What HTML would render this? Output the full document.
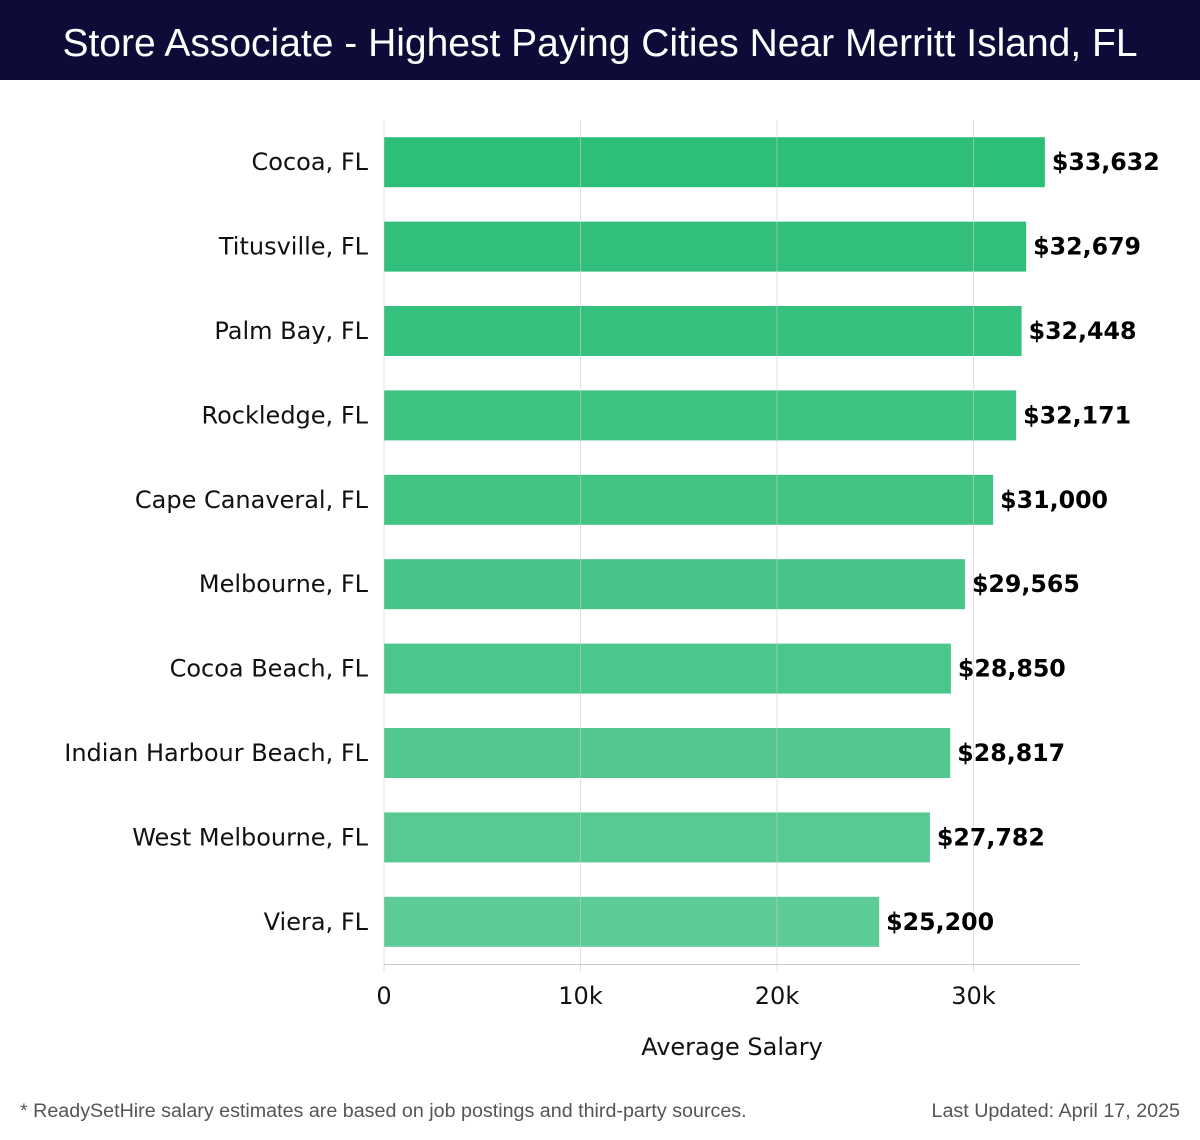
<!DOCTYPE html>
<html><head><meta charset="utf-8"><style>
body{margin:0;width:1200px;height:1140px;background:#fff;overflow:hidden;font-family:"DejaVu Sans","Liberation Sans",sans-serif}
#title{position:absolute;left:0;top:0;width:1200px;height:80px;background:#0d0c38;color:#fff;font-family:"Liberation Sans",sans-serif;font-size:39px;line-height:88px;text-align:center}
svg{position:absolute;left:0;top:0}
.foot{position:absolute;top:1100px;font-family:"Liberation Sans",sans-serif;font-size:19.7px;color:#555}
</style></head><body>
<div id="title">Store Associate - Highest Paying Cities Near Merritt Island, FL</div>
<svg id="chart" width="1200" height="1140"></svg>
<div class="foot" style="left:20px">* ReadySetHire salary estimates are based on job postings and third-party sources.</div>
<div class="foot" style="right:20px">Last Updated: April 17, 2025</div>
<script>
const cities=["Cocoa, FL","Titusville, FL","Palm Bay, FL","Rockledge, FL","Cape Canaveral, FL","Melbourne, FL","Cocoa Beach, FL","Indian Harbour Beach, FL","West Melbourne, FL","Viera, FL"];
const salaries=[33632,32679,32448,32171,31000,29565,28850,28817,27782,25200];
const ticks=[0,10000,20000,30000];
const tickLabels=["0","10k","20k","30k"];
const NS="http://www.w3.org/2000/svg";
const svg=document.getElementById('chart');
const x0=384,pxPer=19.65/1000,top0=120,step=84.4;
const xs=v=>x0+v*pxPer;
const yc=i=>top0+step*(i+0.5);
function mk(t,a){const e=document.createElementNS(NS,t);for(const k in a)e.setAttribute(k,a[k]);svg.appendChild(e);return e;}
const c1=[45,190,120],c2=[92,203,150];
cities.forEach((c,i)=>{
 const f=i/(cities.length-1);
 const col=`rgb(${c1.map((v,j)=>Math.round(v+(c2[j]-v)*f)).join(',')})`;
 const b=mk('rect',{x:x0,y:yc(i)-25,width:xs(salaries[i])-x0,height:50,fill:col});
 
 
});
ticks.forEach((t,i)=>{
 const g=mk('line',{x1:xs(t),x2:xs(t),y1:top0,y2:972,stroke:'#ccc','stroke-width':1,'stroke-opacity':0.6});
 
 
 const tl=mk('text',{x:xs(t),y:1004,'text-anchor':'middle','font-size':24,fill:'#111'});tl.textContent=tickLabels[i];
 
 
});
cities.forEach((c,i)=>{
 const l=mk('text',{x:368,y:yc(i)+8,'text-anchor':'end','font-size':24,fill:'#111'});l.textContent=c;
 
 
 const v=mk('text',{x:xs(salaries[i])+7,y:yc(i)+8,'font-size':23.7,'font-weight':'bold',fill:'#000'});v.textContent='$'+salaries[i].toLocaleString('en-US');
 
 
});
const ax=mk('line',{x1:x0,x2:1080,y1:964.5,y2:964.5,stroke:'#ccc'});


const at=mk('text',{x:732,y:1055,'text-anchor':'middle','font-size':24,fill:'#111'});at.textContent='Average Salary';


</script>
</body></html>
